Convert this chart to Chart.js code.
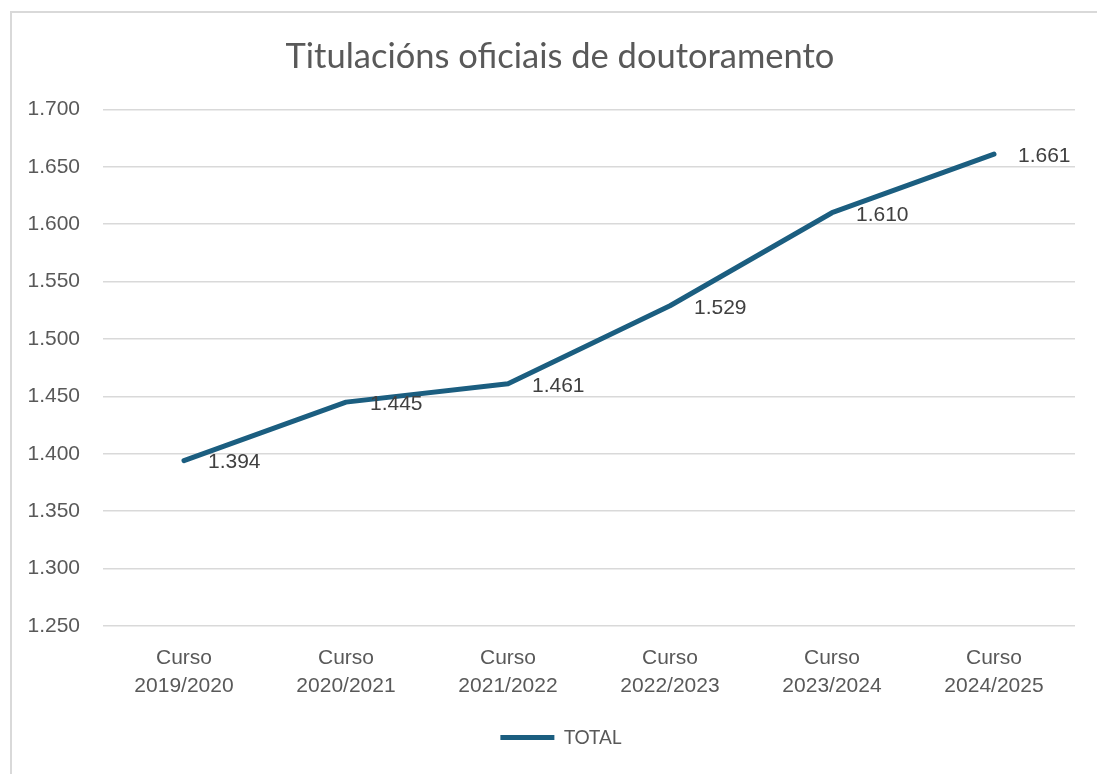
<!DOCTYPE html>
<html>
<head>
<meta charset="utf-8">
<script src="https://cdn.jsdelivr.net/npm/chart.js@4/dist/chart.umd.min.js"></script>
<style>
  html, body { margin: 0; padding: 0; background: #fff; }
  #marco {
    position: absolute; left: 10px; top: 11px; width: 1200px; height: 900px;
    border-left: 2px solid #d9d9d9; border-top: 2px solid #d9d9d9;
  }
  #caixa { position: absolute; left: 0; top: 0; width: 1097px; height: 774px; }
</style>
</head>
<body>
<div id="marco"></div>
<div id="caixa"><canvas id="grafica"></canvas></div>
<script>
const cursos = [
  ["Curso", "2019/2020"],
  ["Curso", "2020/2021"],
  ["Curso", "2021/2022"],
  ["Curso", "2022/2023"],
  ["Curso", "2023/2024"],
  ["Curso", "2024/2025"]
];
const total = [1394, 1445, 1461, 1529, 1610, 1661];

const cor = '#1b5e80';
const gris = '#595959';

// número con punto de millares: 1394 -> "1.394"
function milleiros(v) {
  const n = Math.round(v);
  if (n < 1000) return String(n);
  return Math.floor(n / 1000) + '.' + String(n % 1000).padStart(3, '0');
}

// etiquetas de datos á dereita de cada punto
const etiquetasDatos = {
  id: 'etiquetasDatos',
  afterDatasetsDraw(chart) {
    const ctx = chart.ctx;
    const meta = chart.getDatasetMeta(0);
    ctx.save();
    ctx.font = '21px "Liberation Sans", Arial, sans-serif';
    ctx.fillStyle = '#404040';
    ctx.textAlign = 'left';
    ctx.textBaseline = 'middle';
    meta.data.forEach((p, i) => {
      ctx.fillText(milleiros(chart.data.datasets[0].data[i]), p.x + 24, p.y + 2);
    });
    ctx.restore();
  }
};

// título e lenda un pouco máis á dereita, como no orixinal
const desprazar = {
  id: 'desprazar',
  afterUpdate(chart) {
    if (chart.titleBlock) { chart.titleBlock.left += 12; chart.titleBlock.right += 12; }
    if (chart.legend) { chart.legend.left += 13; chart.legend.right += 13; }
  }
};

new Chart(document.getElementById('grafica'), {
  type: 'line',
  data: {
    labels: cursos,
    datasets: [{
      label: 'TOTAL',
      data: total,
      borderColor: cor,
      backgroundColor: cor,
      borderWidth: 5,
      borderCapStyle: 'round',
      borderJoinStyle: 'round',
      pointRadius: 0,
      pointHoverRadius: 0,
      pointStyle: 'line',
      tension: 0
    }]
  },
  options: {
    responsive: true,
    maintainAspectRatio: false,
    animation: false,
    layout: { padding: { left: 21, right: 22, top: 0, bottom: 17 } },
    plugins: {
      title: {
        display: true,
        text: 'Titulacións oficiais de doutoramento',
        color: gris,
        font: { family: 'Lato', size: 34.5, weight: 'normal' },
        padding: { top: 36, bottom: 32 }
      },
      legend: {
        position: 'bottom',
        labels: {
          usePointStyle: true,
          pointStyleWidth: 54,
          color: gris,
          font: { family: 'Lato', size: 19 },
          padding: 10
        }
      },
      tooltip: { enabled: false }
    },
    scales: {
      x: {
        offset: true,
        grid: { display: false },
        border: { display: false },
        afterFit(scale) { scale.height = 92; },
        ticks: {
          color: gris,
          padding: 10,
          maxRotation: 0,
          font: { family: '"Liberation Sans"', size: 21, lineHeight: 1.35 }
        }
      },
      y: {
        min: 1250,
        max: 1700,
        afterFit(scale) { scale.width = 82; },
        grid: { color: '#d9d9d9', lineWidth: 1.5, drawTicks: false },
        border: { display: false },
        ticks: {
          stepSize: 50,
          color: gris,
          padding: 23,
          font: { family: '"Liberation Sans"', size: 21 },
          callback: (v) => milleiros(v)
        }
      }
    }
  },
  plugins: [etiquetasDatos, desprazar]
});
</script>
</body>
</html>
